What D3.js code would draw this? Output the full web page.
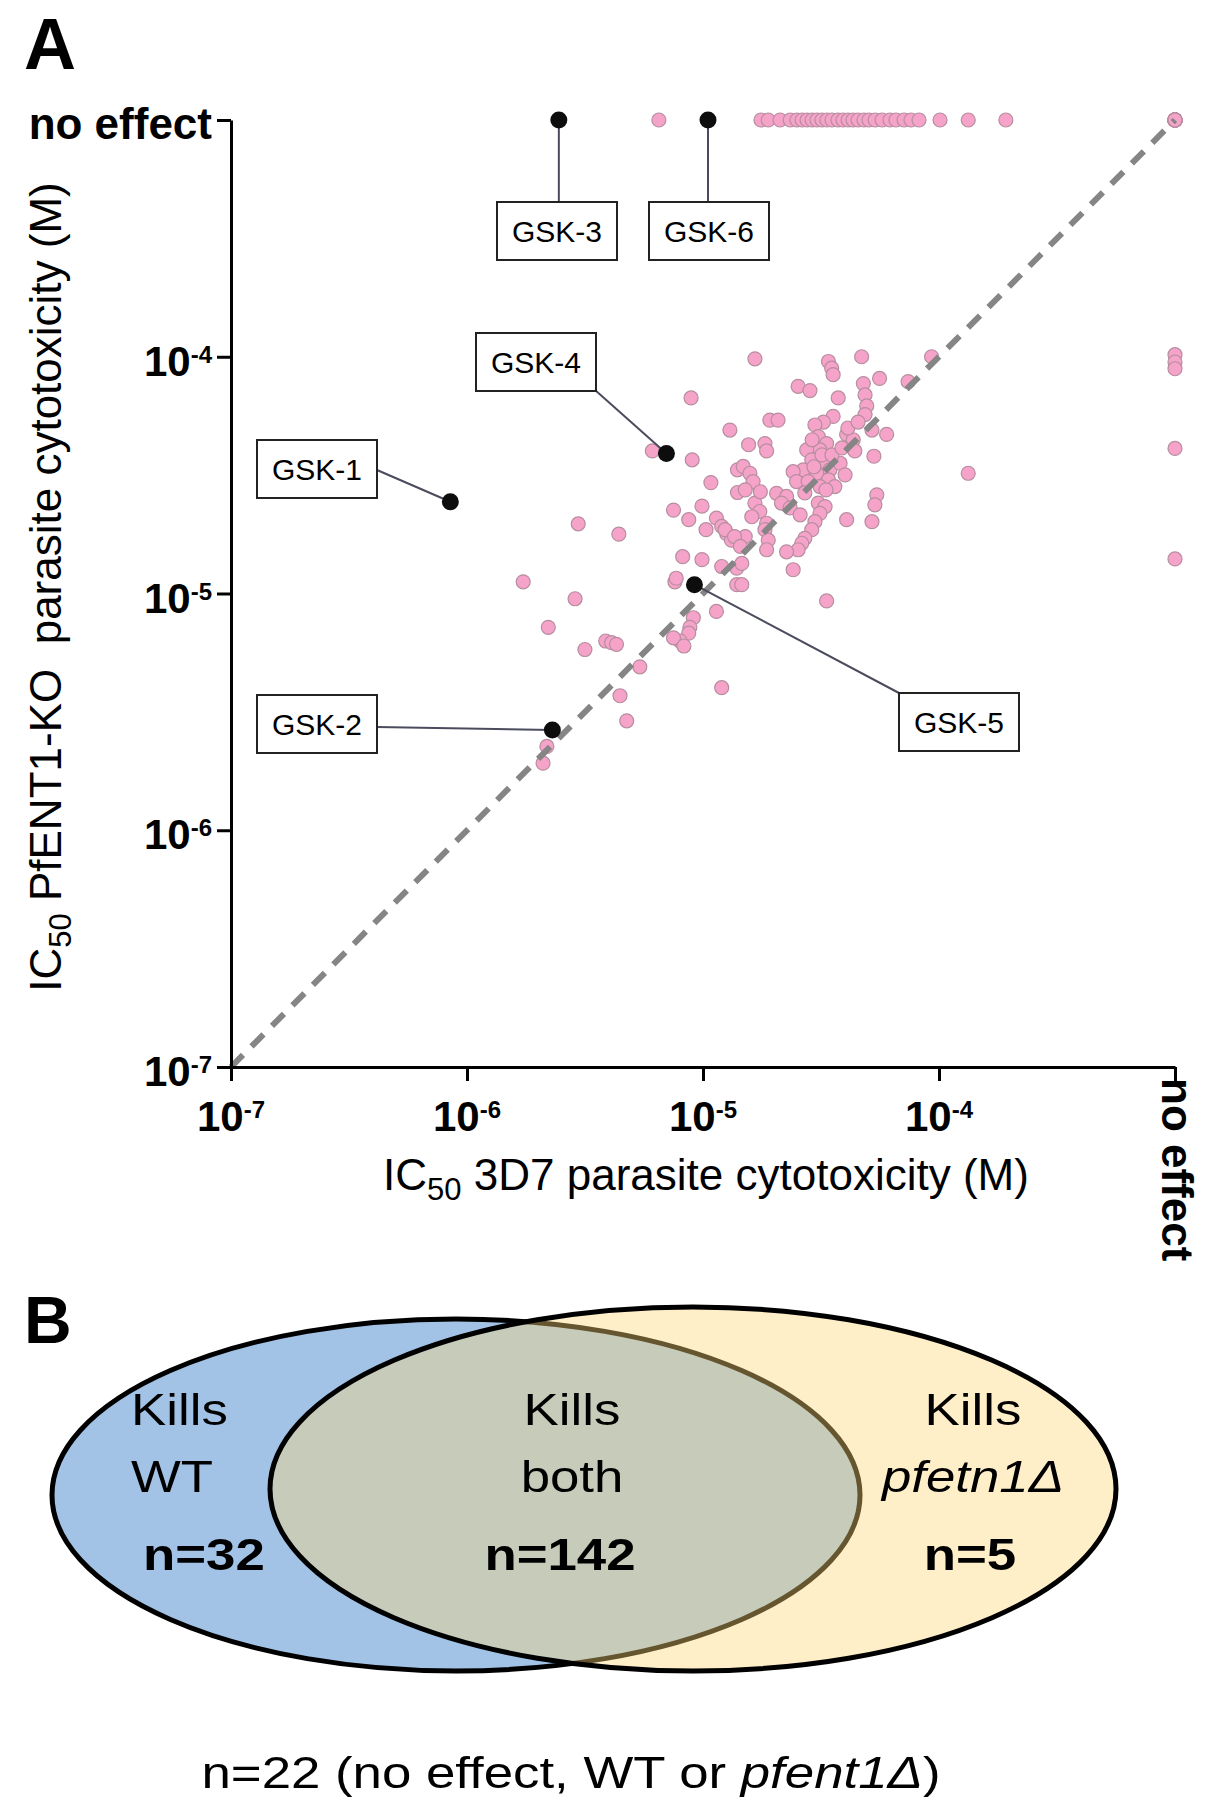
<!DOCTYPE html>
<html lang="en">
<head>
<meta charset="utf-8">
<title>IC50 3D7 vs PfENT1-KO and Venn</title>
<script src="https://cdn.jsdelivr.net/npm/d3@7"></script>
<style>
  body { margin: 0; background: #fff; }
  svg text { font-family: "Liberation Sans", Arial, Helvetica, sans-serif; fill: #000; }
  .axis path, .axis line { stroke: #000; stroke-width: 3; }
</style>
</head>
<body>
<script>

// ---- data (IC50 in M) ----
// compounds that kill both lines: [3D7 IC50, PfENT1-KO IC50]
var bothKill = [
  [8.9e-6, 6.7e-5], [1.30e-5, 4.9e-5], [6.1e-6, 4.0e-5], [9.0e-6, 3.67e-5], [1.08e-5, 2.94e-5],
  [1.40e-5, 3.33e-5], [1.40e-5, 2.67e-5], [7.5e-6, 2.25e-5], [9.9e-6, 2.34e-5], [8.7e-6, 2.05e-5],
  [1.14e-5, 2.08e-5], [1.20e-5, 1.92e-5], [1.26e-5, 1.79e-5], [1.32e-5, 1.68e-5], [1.03e-5, 1.86e-5],
  [2.96e-6, 1.97e-5], [4.4e-6, 1.78e-5], [8.2e-6, 1.43e-5], [9.9e-6, 1.39e-5], [1.20e-5, 1.30e-5],
  [1.39e-5, 1.28e-5], [1.73e-6, 1.12e-5], [2.87e-6, 9.5e-6], [2.21e-6, 7.2e-6], [3.16e-6, 5.8e-6],
  [3.87e-6, 6.3e-6], [4.1e-6, 6.2e-6], [4.3e-6, 6.1e-6], [5.4e-6, 4.9e-6], [4.45e-6, 3.7e-6],
  [4.75e-6, 2.9e-6], [2.18e-6, 2.26e-6], [2.10e-6, 1.92e-6], [1.20e-5, 4.0e-6], [1.14e-5, 8.4e-6],
  [9.1e-6, 7.9e-6], [8.8e-6, 7.2e-6], [8.7e-6, 6.8e-6], [8.0e-6, 6.3e-6], [7.5e-6, 6.5e-6],
  [8.3e-6, 6.0e-6], [7.6e-6, 1.12e-5], [1.39e-5, 1.09e-5], [1.66e-5, 9.8e-5], [3.40e-5, 9.55e-5],
  [3.51e-5, 8.95e-5], [3.56e-5, 8.4e-5], [4.70e-5, 1.0e-4], [9.3e-5, 1.0e-4], [5.6e-5, 8.1e-5],
  [7.4e-5, 7.85e-5], [2.53e-5, 7.5e-5], [2.84e-5, 7.2e-5], [3.74e-5, 6.7e-5], [4.78e-5, 7.7e-5],
  [4.86e-5, 6.9e-5], [4.94e-5, 6.2e-5], [4.86e-5, 5.7e-5], [1.92e-5, 5.4e-5], [2.08e-5, 5.4e-5],
  [3.56e-5, 5.6e-5], [3.24e-5, 5.3e-5], [2.98e-5, 5.15e-5], [1.56e-5, 4.25e-5], [1.83e-5, 4.3e-5],
  [1.86e-5, 4.0e-5], [4.06e-5, 4.7e-5], [4.33e-5, 4.46e-5], [5.2e-5, 4.9e-5], [6.0e-5, 4.7e-5],
  [5.3e-5, 3.8e-5], [4.4e-5, 4.0e-5], [3.08e-5, 4.6e-5], [3.34e-5, 4.3e-5], [3.13e-5, 4.04e-5],
  [2.75e-5, 4.04e-5], [2.89e-5, 3.67e-5], [3.24e-5, 3.61e-5], [3.45e-5, 3.33e-5], [3.03e-5, 3.22e-5],
  [2.66e-5, 3.33e-5], [3.40e-5, 3.02e-5], [3.13e-5, 2.83e-5], [3.62e-5, 2.83e-5], [3.81e-5, 3.55e-5],
  [2.41e-5, 3.27e-5], [2.49e-5, 2.97e-5], [2.79e-5, 2.97e-5], [1.48e-5, 3.44e-5], [1.58e-5, 3.22e-5],
  [1.63e-5, 2.97e-5], [1.51e-5, 2.74e-5], [2.05e-5, 2.65e-5], [2.26e-5, 2.57e-5], [2.15e-5, 2.41e-5],
  [1.66e-5, 2.41e-5], [1.74e-5, 2.22e-5], [1.61e-5, 2.11e-5], [1.86e-5, 1.98e-5], [1.83e-5, 1.86e-5],
  [3.08e-5, 2.41e-5], [3.29e-5, 2.33e-5], [3.13e-5, 2.18e-5], [2.98e-5, 2.01e-5], [2.89e-5, 1.86e-5],
  [2.70e-5, 1.71e-5], [2.62e-5, 1.63e-5], [2.53e-5, 1.53e-5], [2.26e-5, 1.50e-5], [2.41e-5, 1.26e-5],
  [5.45e-5, 2.61e-5], [5.35e-5, 2.37e-5], [4.06e-5, 2.05e-5], [5.2e-5, 2.01e-5], [1.33e-4, 3.22e-5],
  [1.89e-5, 1.68e-5], [1.86e-5, 1.53e-5], [1.51e-5, 1.74e-5], [1.46e-5, 1.34e-5], [3.34e-5, 9.3e-6],
  [1.46e-5, 1.09e-5], [1.24e-5, 1.86e-5], [1.36e-5, 1.74e-5], [1.44e-5, 1.58e-5], [7.7e-6, 1.16e-5],
  [2.90e-5, 4.46e-5], [3.19e-5, 3.85e-5], [3.52e-5, 3.85e-5], [2.95e-5, 3.43e-5], [3.32e-5, 2.74e-5],
  [2.70e-5, 2.66e-5], [3.88e-5, 4.12e-5], [4.00e-5, 3.17e-5], [2.34e-5, 2.30e-5], [2.58e-5, 2.15e-5],
  [1.75e-5, 2.69e-5], [4.11e-5, 5.0e-5], [4.54e-5, 5.3e-5]
];

// kills WT only: 3D7 IC50, no effect on PfENT1-KO
var wtOnly = [
  6.5e-6, 1.76e-5, 1.89e-5, 2.12e-5, 2.34e-5, 2.50e-5, 2.63e-5, 2.76e-5, 2.90e-5, 3.04e-5,
  3.19e-5, 3.35e-5, 3.52e-5, 3.73e-5, 3.92e-5, 4.12e-5, 4.32e-5, 4.54e-5, 4.81e-5, 5.05e-5,
  5.36e-5, 5.74e-5, 6.20e-5, 6.57e-5, 7.11e-5, 7.61e-5, 8.23e-5, 1.01e-4, 1.33e-4, 1.92e-4
];

// kills pfent1 knockout only: PfENT1-KO IC50, no effect on 3D7
var koOnly = [1.02e-4, 9.5e-5, 8.9e-5, 4.1e-5, 1.4e-5];

// no effect on either line
var neitherCount = 22;

// highlighted compounds (null = no effect)
var hitNames = ["GSK-1", "GSK-2", "GSK-3", "GSK-4", "GSK-5", "GSK-6"];
var hitWT = [8.5e-7, 2.3e-6, 2.45e-6, 7.0e-6, 9.2e-6, 1.05e-5];
var hitKO = [2.44e-5, 2.65e-6, null, 3.9e-5, 1.09e-5, null];

// Venn panel
var vennTitles = [["Kills", "WT"], ["Kills", "both"], ["Kills", "pfetn1\u0394"]];
var vennCounts = [32, 142, 5];

// ---- scatter ----
var svg = d3.select("body").append("svg")
  .attr("width", 1212)
  .attr("height", 1800);

var x = d3.scaleLog().domain([1e-7, 1e-3]).range([231, 1175]);
var y = d3.scaleLog().domain([1e-7, 1e-3]).range([1067, 120]);
var noEffect = 1e-3;   // "no effect" sits at the end of each axis

function val(v) { return v === null ? noEffect : v; }

var majors = [1e-7, 1e-6, 1e-5, 1e-4, 1e-3];
var minors = [];
for (var e = -7; e < -3; e++) {
  for (var k = 2; k < 10; k++) minors.push(k * Math.pow(10, e));
}

// points
var pink = [];
bothKill.forEach(function(d) { pink.push([d[0], d[1]]); });
wtOnly.forEach(function(d) { pink.push([d, null]); });
koOnly.forEach(function(d) { pink.push([null, d]); });
for (var i = 0; i < neitherCount; i++) pink.push([null, null]);

svg.append("g").selectAll("circle")
  .data(pink)
  .enter()
  .append("circle")
  .attr("cx", function(d) { return x(val(d[0])); })
  .attr("cy", function(d) { return y(val(d[1])); })
  .attr("r", 7)
  .attr("fill", "#f5a3c8")
  .attr("stroke", "#b78ea0")
  .attr("stroke-width", 1.2);

// line of identity
svg.append("line")
  .attr("x1", x(1e-7)).attr("y1", y(1e-7))
  .attr("x2", x(1e-3)).attr("y2", y(1e-3))
  .attr("stroke", "#858585")
  .attr("stroke-width", 6)
  .attr("stroke-dasharray", "17,12");

// axes
var xg = svg.append("g").attr("class", "axis").attr("transform", "translate(0,1067)");
xg.call(d3.axisBottom(x).tickValues(minors).tickSize(7).tickSizeOuter(0).tickFormat(""));
xg.call(d3.axisBottom(x).tickValues(majors).tickSize(14).tickSizeOuter(0).tickFormat(""));

var yg = svg.append("g").attr("class", "axis").attr("transform", "translate(231,0)");
yg.call(d3.axisLeft(y).tickValues(minors).tickSize(8).tickSizeOuter(0).tickFormat(""));
yg.call(d3.axisLeft(y).tickValues(majors).tickSize(14).tickSizeOuter(0).tickFormat(""));

svg.selectAll(".axis path").attr("stroke-width", 3.5);

function powerLabel(t, v) {
  var ex = Math.round(Math.log10(v));
  t.append("tspan").style("font-size", "42px").text("10");
  t.append("tspan").attr("dy", -13).style("font-size", "24px").text(String(ex));
}

majors.forEach(function(v) {
  var t = svg.append("text")
    .attr("x", 212)
    .attr("y", y(v) + 19)
    .attr("text-anchor", "end")
    .style("font-weight", "bold");
  if (v === noEffect) t.style("font-size", "44px").text("no effect");
  else powerLabel(t, v);
});

majors.forEach(function(v) {
  if (v === noEffect) {
    svg.append("text")
      .attr("transform", "translate(" + (x(v) - 13) + ",1078) rotate(90)")
      .style("font-weight", "bold")
      .style("font-size", "44px")
      .text("no effect");
  } else {
    var t = svg.append("text")
      .attr("x", x(v))
      .attr("y", 1131)
      .attr("text-anchor", "middle")
      .style("font-weight", "bold");
    powerLabel(t, v);
  }
});

// axis titles
function ic50Title(t, rest) {
  t.append("tspan").text("IC");
  t.append("tspan").attr("dy", 10).style("font-size", "31px").text("50");
  t.append("tspan").attr("dy", -10).text(rest);
}

var xt = svg.append("text")
  .attr("x", 706).attr("y", 1190)
  .attr("text-anchor", "middle")
  .style("font-size", "44px");
ic50Title(xt, " 3D7 parasite cytotoxicity (M)");

var yt = svg.append("text")
  .attr("transform", "translate(61,587) rotate(-90)")
  .attr("text-anchor", "middle")
  .attr("xml:space", "preserve")
  .style("white-space", "pre")
  .style("font-size", "44px");
ic50Title(yt, " PfENT1-KO  parasite cytotoxicity (M)");

// callout boxes for GSK compounds
var boxes = [
  {x: 257, y: 440, ax: 377, ay: 470},
  {x: 257, y: 695, ax: 377, ay: 727},
  {x: 497, y: 202, ax: null, ay: 202},
  {x: 476, y: 333, ax: 595, ay: 390},
  {x: 899, y: 693, ax: 899, ay: 693},
  {x: 649, y: 202, ax: null, ay: 202}
];
var boxW = 120, boxH = 58;

hitNames.forEach(function(name, i) {
  var b = boxes[i];
  var px = x(hitWT[i]), py = y(val(hitKO[i]));
  svg.append("line")
    .attr("x1", b.ax === null ? px : b.ax).attr("y1", b.ay)
    .attr("x2", px).attr("y2", py)
    .attr("stroke", "#4b4b5e")
    .attr("stroke-width", 2);
  svg.append("rect")
    .attr("x", b.x).attr("y", b.y)
    .attr("width", boxW).attr("height", boxH)
    .attr("fill", "#fff")
    .attr("stroke", "#222")
    .attr("stroke-width", 2);
  svg.append("text")
    .attr("x", b.x + boxW / 2).attr("y", b.y + boxH / 2 + 11)
    .attr("text-anchor", "middle")
    .style("font-size", "30px")
    .text(name);
});

svg.append("g").selectAll("circle")
  .data(hitNames)
  .enter()
  .append("circle")
  .attr("cx", function(d, i) { return x(hitWT[i]); })
  .attr("cy", function(d, i) { return y(val(hitKO[i])); })
  .attr("r", 8.5)
  .attr("fill", "#0d0d0d");

// panel letters
svg.append("text").attr("x", 24).attr("y", 69)
  .style("font-size", "72px").style("font-weight", "bold").text("A");
svg.append("text").attr("x", 24).attr("y", 1343)
  .style("font-size", "66px").style("font-weight", "bold").text("B");

// ---- Venn ----
svg.append("ellipse")
  .attr("cx", 456).attr("cy", 1495).attr("rx", 404).attr("ry", 176)
  .attr("fill", "#a3c3e6")
  .attr("stroke", "#000").attr("stroke-width", 5);

svg.append("ellipse")
  .attr("cx", 693).attr("cy", 1489).attr("rx", 423).attr("ry", 182)
  .attr("fill", "rgba(252,216,120,0.4)")
  .attr("stroke", "#000").attr("stroke-width", 5);

function stretched(xp, yp, anchor) {
  return svg.append("g")
    .attr("transform", "translate(" + xp + "," + yp + ") scale(1.2,1)")
    .append("text")
    .attr("text-anchor", anchor)
    .style("font-size", "44px");
}

var vennPos = [
  {x: 131, anchor: "start", nx: 143, nanchor: "start"},
  {x: 572, anchor: "middle", nx: 560, nanchor: "middle"},
  {x: 973, anchor: "middle", nx: 970, nanchor: "middle"}
];

vennTitles.forEach(function(lines, i) {
  var p = vennPos[i];
  stretched(p.x, 1425, p.anchor).text(lines[0]);
  var second = stretched(p.x, 1492, p.anchor).text(lines[1]);
  if (i === 2) second.style("font-style", "italic");
  stretched(p.nx, 1570, p.nanchor).style("font-weight", "bold").text("n=" + vennCounts[i]);
});

var foot = stretched(571, 1788, "middle");
foot.append("tspan").text("n=" + neitherCount + " (no effect, WT or ");
foot.append("tspan").style("font-style", "italic").text("pfent1\u0394");
foot.append("tspan").text(")");

</script>
</body>
</html>
